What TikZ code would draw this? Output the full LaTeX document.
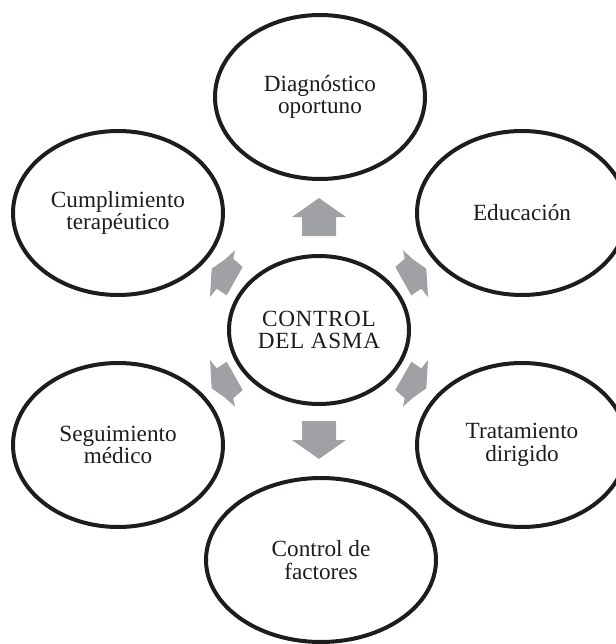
\documentclass[tikz,border=0pt]{standalone}
\usepackage{fontspec}
\setmainfont{Liberation Serif}
\usepackage{tikz}
\usetikzlibrary{shapes.geometric}

\definecolor{arrowgray}{RGB}{160,161,164}
\definecolor{inkblack}{RGB}{30,28,29}

\newcommand{\uparrowblock}{%
    \fill[arrowgray] (0, -130.5) -- (27, -111.5) -- (17, -111.5) -- (17, -92.5)
        -- (-17, -92.5) -- (-17, -111.5) -- (-27, -111.5) -- cycle;}
\newcommand{\diagarrowblock}{%
    \fill[arrowgray] (-109, -31.5) -- (-107.3, -59.8) -- (-94, -69.2) -- (-84, -78.2)
        -- (-85.7, -69.8) -- (-76.3, -61.5) -- (-92.3, -33.2) -- (-102.3, -39.8) -- cycle;}

\begin{document}
\begin{tikzpicture}[x = 0.5pt, y = -0.5pt,
        bubble/.style = {shape=ellipse, draw=inkblack, line width=2pt, fill=white,
            minimum width=105pt, minimum height=82pt, inner sep=0pt,
            align=center, text=inkblack, font=\fontsize{11.6}{11.2}\selectfont}]
            \useasboundingbox (0, 0) rectangle (616, 644);

            \node[bubble] (diag) at (320, 97) {Diagnóstico\\oportuno};
            \node[bubble] (cump) at (118, 213) {Cumplimiento\\terapéutico};
            \node[bubble] (edu) at (522, 213) {Educación};
            \node[bubble] (seg) at (118, 445) {Seguimiento\\médico};
            \node[bubble] (trat) at (522, 445) {Tratamiento\\dirigido};
            \node[bubble, minimum width=115pt] (fact) at (321, 560) {Control de\\factores};
            \node[bubble, minimum width=90pt, minimum height=74pt] (asma) at (319, 330)
                {\addfontfeature{LetterSpace=3}CONTROL\\\addfontfeature{LetterSpace=3}DEL ASMA};

            % arrows round the centre
            \begin{scope}[shift={(319, 328.5)}]
                \uparrowblock
            \end{scope}
            \begin{scope}[shift={(319, 328.5)}, yscale=-1]
                \uparrowblock
            \end{scope}
            \begin{scope}[shift={(319, 328.5)}]
                \diagarrowblock
            \end{scope}
            \begin{scope}[shift={(319, 328.5)}, xscale=-1]
                \diagarrowblock
            \end{scope}
            \begin{scope}[shift={(319, 328.5)}, yscale=-1]
                \diagarrowblock
            \end{scope}
            \begin{scope}[shift={(319, 328.5)}, xscale=-1, yscale=-1]
                \diagarrowblock
            \end{scope}

        \end{tikzpicture}
\end{document}
